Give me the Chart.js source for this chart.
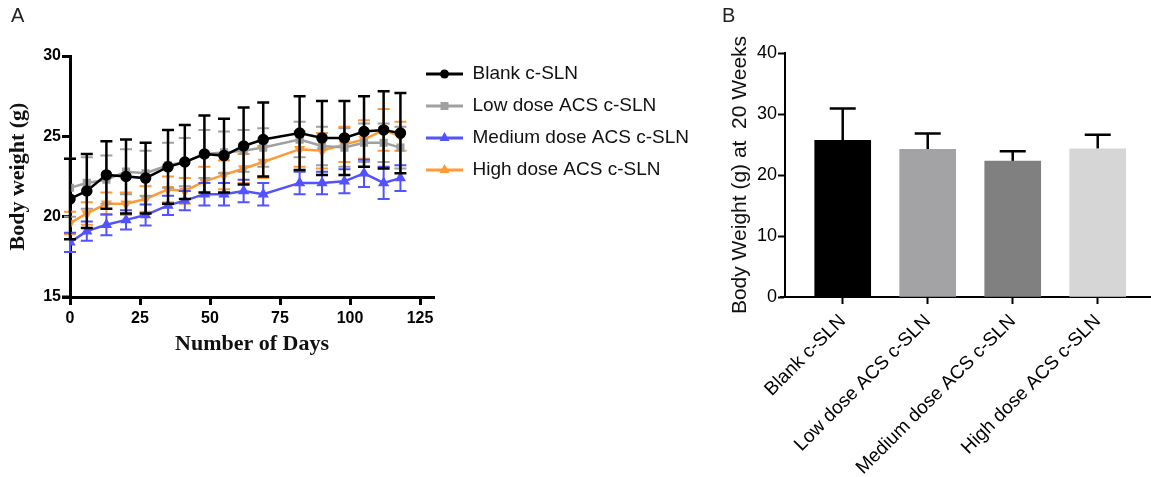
<!DOCTYPE html>
<html>
<head>
<meta charset="utf-8">
<script src="https://cdn.jsdelivr.net/npm/chart.js@4/dist/chart.umd.min.js"></script>
<style>
  html, body { margin: 0; padding: 0; background: #fff; }
  #wrap { position: relative; width: 1151px; height: 477px; overflow: hidden; }
  .panel { position: absolute; top: 0; }
  .tag { position: absolute; font: 20px "Liberation Sans", Arial, sans-serif; color: #222; }
</style>
</head>
<body>
<div id="wrap">
  <canvas id="chartA" class="panel" style="left:0" width="720" height="477"></canvas>
  <canvas id="chartB" class="panel" style="left:720px" width="431" height="477"></canvas>
  <div class="tag" style="left:11px; top:4px">A</div>
  <div class="tag" style="left:722px; top:4px">B</div>
</div>
<script>
// panel A : body weight over time (mean, sd)
const days = [0, 6, 13, 20, 27, 35, 41, 48, 55, 62, 69, 82, 90, 98, 105, 112, 118];
const blankMean = [21.1, 21.6, 22.6, 22.5, 22.4, 23.1, 23.4, 23.9, 23.8, 24.4, 24.8, 25.2, 24.9, 24.9, 25.3, 25.4, 25.2];
const blankSd   = [2.5, 2.3, 2.1, 2.3, 2.2, 2.3, 2.3, 2.4, 2.3, 2.4, 2.3, 2.3, 2.3, 2.3, 2.2, 2.4, 2.5];
const lowMean   = [21.8, 22.1, 22.3, 22.8, 22.7, 23.2, 23.4, 23.9, 24.0, 24.1, 24.3, 24.8, 24.4, 24.3, 24.6, 24.6, 24.3];
const lowSd     = [1.8, 1.6, 1.5, 1.4, 1.4, 1.4, 1.5, 1.5, 1.3, 1.3, 1.2, 1.1, 1.2, 1.2, 1.2, 1.2, 1.3];
const medMean   = [18.4, 19.1, 19.5, 19.8, 20.1, 20.7, 21.0, 21.4, 21.4, 21.6, 21.4, 22.1, 22.1, 22.2, 22.7, 22.1, 22.4];
const medSd     = [0.6, 0.6, 0.65, 0.6, 0.65, 0.6, 0.6, 0.7, 0.7, 0.7, 0.7, 0.7, 0.7, 0.75, 0.85, 1.0, 0.8];
const highMean  = [19.6, 20.2, 20.8, 20.8, 21.1, 21.7, 21.6, 22.2, 22.6, 23.0, 23.4, 24.2, 24.1, 24.5, 24.8, 25.4, 25.0];
const highSd    = [0.7, 0.7, 0.7, 0.7, 0.8, 0.8, 0.8, 0.9, 0.9, 0.9, 1.0, 1.1, 1.1, 1.1, 1.2, 1.3, 0.9];
const seriesNames = ['Blank c-SLN', 'Low dose ACS c-SLN', 'Medium dose ACS c-SLN', 'High dose ACS c-SLN'];
const xTicksA = [0, 25, 50, 75, 100, 125];

// panel B : body weight at 20 weeks
const groups = ['Blank c-SLN', 'Low dose ACS c-SLN', 'Medium dose ACS c-SLN', 'High dose ACS c-SLN'];
const week20Mean = [25.7, 24.2, 22.3, 24.3];
const week20Sd   = [5.2, 2.6, 1.6, 2.3];

const sans = '"Liberation Sans", Arial, sans-serif';
const serif = '"Liberation Serif", "Times New Roman", serif';

function pts(xs, ys) {
  return xs.map((x, i) => ({x: x, y: ys[i]}));
}

// error bars, drawn under each dataset's own line/bars
const errorBars = {
  id: 'errorBars',
  beforeDatasetDraw(chart, args) {
    const ds = chart.data.datasets[args.index];
    if (!ds.errors) return;
    const ctx = chart.ctx;
    const xs = chart.scales.x, ys = chart.scales.y;
    ctx.save();
    ctx.strokeStyle = ds.errColor || ds.borderColor;
    ctx.lineWidth = ds.errWidth || 2;
    ds.data.forEach((p, i) => {
      const x = xs.getPixelForValue(p.x);
      const yt = ys.getPixelForValue(p.y + ds.errors[i]);
      const yb = ds.errUpOnly ? ys.getPixelForValue(p.y) : ys.getPixelForValue(p.y - ds.errors[i]);
      const c = ds.capHalf || 6;
      ctx.beginPath();
      ctx.moveTo(x, yt); ctx.lineTo(x, yb);
      ctx.moveTo(x - c, yt); ctx.lineTo(x + c, yt);
      if (!ds.errUpOnly) { ctx.moveTo(x - c, yb); ctx.lineTo(x + c, yb); }
      ctx.stroke();
    });
    ctx.restore();
  }
};

// x axis line runs on past the y axis, like the tick marks (prism style)
function axisStub(len, width) {
  return {
    id: 'axisStub',
    afterDraw(chart) {
      const a = chart.chartArea, ctx = chart.ctx;
      ctx.save();
      ctx.strokeStyle = '#000';
      ctx.lineWidth = width;
      ctx.beginPath();
      ctx.moveTo(a.left - len, a.bottom);
      ctx.lineTo(a.left, a.bottom);
      ctx.stroke();
      ctx.restore();
    }
  };
}

// legend sample: short line with the marker in the middle
function legendSample(color, style) {
  const c = document.createElement('canvas');
  c.width = 37; c.height = 14;
  const g = c.getContext('2d');
  g.strokeStyle = color; g.fillStyle = color; g.lineWidth = 3;
  g.beginPath(); g.moveTo(0, 7); g.lineTo(37, 7); g.stroke();
  g.beginPath();
  if (style === 'circle') g.arc(18.5, 7, 4.5, 0, Math.PI * 2);
  else if (style === 'rect') g.rect(14.5, 3, 8, 8);
  else if (style === 'triangle') { g.moveTo(18.5, 1); g.lineTo(23.5, 10); g.lineTo(13.5, 10); g.closePath(); }
  else { g.moveTo(18.5, 13); g.lineTo(23.5, 4); g.lineTo(13.5, 4); g.closePath(); }
  g.fill();
  return c;
}

const colA = ['#000000', '#a0a0a0', '#5252ff', '#ff9a36'];
const stylesA = ['circle', 'rect', 'triangle', 'down'];
const meansA = [blankMean, lowMean, medMean, highMean];
const sdsA = [blankSd, lowSd, medSd, highSd];

const datasetsA = seriesNames.map((name, k) => ({
  label: name,
  data: pts(days, meansA[k]),
  errors: sdsA[k],
  errWidth: k === 0 ? 2.5 : 2,
  borderColor: colA[k],
  backgroundColor: colA[k],
  borderWidth: 2.5,
  pointStyle: stylesA[k] === 'down' ? 'triangle' : stylesA[k],
  pointRotation: stylesA[k] === 'down' ? 180 : 0,
  pointRadius: k === 0 ? 4.5 : 4,
  tension: 0
}));

const legendShift = {
  id: 'legendShift',
  afterLayout(chart) {
    if (chart.legend) { chart.legend.left = 413; chart.legend.top = 51.5; }
  }
};

new Chart(document.getElementById('chartA'), {
  type: 'line',
  data: {datasets: datasetsA},
  plugins: [errorBars, legendShift, axisStub(8, 3)],
  options: {
    responsive: false,
    animation: false,
    layout: {padding: {left: 0, top: 56, right: 0, bottom: 0}},
    plugins: {
      tooltip: {enabled: false},
      legend: {
        position: 'right',
        align: 'start',
        maxWidth: 288,
        labels: {
          usePointStyle: true,
          pointStyleWidth: 37,
          padding: 13,
          color: '#111',
          font: {family: sans, size: 19},
          generateLabels(chart) {
            return Chart.defaults.plugins.legend.labels.generateLabels(chart).map((l, i) => {
              l.pointStyle = legendSample(colA[i], stylesA[i]);
              return l;
            });
          }
        }
      }
    },
    scales: {
      x: {
        type: 'linear', min: 0, max: 130,
        afterBuildTicks(s) { s.ticks = xTicksA.map(v => ({value: v})); },
        afterFit(s) { s.height = 180; },
        border: {display: true, color: '#000', width: 3},
        grid: {display: true, drawOnChartArea: false, drawTicks: true, tickLength: 8, tickWidth: 3, tickColor: '#000'},
        ticks: {color: '#000', padding: 4, font: {family: sans, size: 16, weight: 'bold'}},
        title: {display: true, text: 'Number of Days', color: '#111',
                font: {family: serif, size: 22, weight: 'bold'}, padding: {top: 0, bottom: 119}}
      },
      y: {
        min: 15, max: 30,
        ticks: {stepSize: 5, color: '#000', padding: 1, font: {family: sans, size: 16, weight: 'bold'}},
        afterFit(s) { s.width = 70; },
        border: {display: true, color: '#000', width: 3},
        grid: {display: true, drawOnChartArea: false, drawTicks: true, tickLength: 8, tickWidth: 3, tickColor: '#000'},
        title: {display: true, text: 'Body weight (g)', color: '#111',
                font: {family: serif, size: 22, weight: 'bold'}, padding: {top: 5, bottom: 0}}
      }
    }
  }
});

const barColors = ['#000000', '#a3a3a6', '#808080', '#d6d6d6'];

new Chart(document.getElementById('chartB'), {
  type: 'bar',
  data: {
    datasets: [{
      label: 'Body Weight at 20 Weeks',
      data: pts(groups.map((g, i) => i), week20Mean),
      errors: week20Sd,
      errUpOnly: true,
      errColor: '#000',
      errWidth: 2.5,
      capHalf: 13,
      backgroundColor: barColors,
      borderWidth: 0,
      barThickness: 56
    }]
  },
  plugins: [errorBars, axisStub(5, 2)],
  options: {
    responsive: false,
    animation: false,
    layout: {padding: {left: 0, top: 53, right: 1, bottom: 0}},
    plugins: {legend: {display: false}, tooltip: {enabled: false}},
    scales: {
      x: {
        type: 'linear', min: -0.679, max: 3.615, offset: false,
        afterBuildTicks(s) { s.ticks = groups.map((g, i) => ({value: i})); },
        afterFit(s) { s.height = 180; },
        border: {display: true, color: '#000', width: 2},
        grid: {display: true, offset: false, drawOnChartArea: false, drawTicks: true, tickLength: 7, tickWidth: 2, tickColor: '#000'},
        ticks: {
          color: '#000', padding: 6, minRotation: 45, maxRotation: 45,
          font: {family: sans, size: 19},
          callback(v) { return groups[v]; }
        }
      },
      y: {
        min: 0, max: 40,
        ticks: {stepSize: 10, color: '#000', padding: 1, font: {family: sans, size: 18}},
        afterFit(s) { s.width = 65; },
        border: {display: true, color: '#000', width: 2},
        grid: {display: true, drawOnChartArea: false, drawTicks: true, tickLength: 7, tickWidth: 2, tickColor: '#000'},
        title: {display: true, text: 'Body Weight (g) at  20 Weeks', color: '#111',
                font: {family: sans, size: 21}, padding: {top: 8, bottom: 0}}
      }
    }
  }
});
</script>
</body>
</html>
